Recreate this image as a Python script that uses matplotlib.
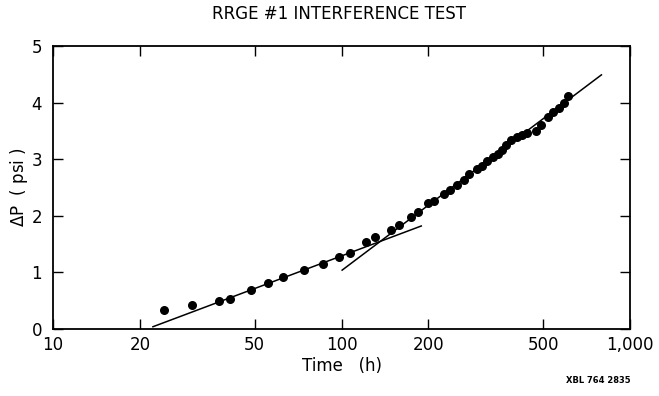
import matplotlib
matplotlib.use("Agg")
import matplotlib.pyplot as plt
from matplotlib.ticker import FixedLocator, NullLocator

# pressure buildup points
time_h = [24.3, 30.4, 37.5, 41.1, 48.4, 55.6, 62.5, 74.2, 86.5, 98.2, 107.4,
          122, 130.4, 148, 158, 174, 184, 199, 210, 226, 237, 251, 266, 276,
          295, 308, 319, 334, 348, 360, 371, 388, 407, 424, 441, 472, 491,
          518, 542, 568, 591, 612]
dp_psi = [0.34, 0.42, 0.50, 0.53, 0.69, 0.81, 0.92, 1.04, 1.14, 1.27, 1.34,
          1.53, 1.63, 1.75, 1.84, 1.97, 2.07, 2.23, 2.26, 2.38, 2.46, 2.54,
          2.64, 2.74, 2.83, 2.88, 2.96, 3.04, 3.10, 3.17, 3.25, 3.34, 3.39,
          3.43, 3.47, 3.50, 3.60, 3.74, 3.84, 3.90, 3.99, 4.12]

# the two straight-line fits (end points)
early_t = [22.2, 189]
early_dp = [0.04, 1.82]
late_t = [100.5, 796]
late_dp = [1.04, 4.49]

xticks = [10, 20, 50, 100, 200, 500, 1000]
xlabels = ["10", "20", "50", "100", "200", "500", "1,000"]
yticks = [0, 1, 2, 3, 4, 5]

fig = plt.figure(figsize=(6.59, 3.96), dpi=100)
ax = fig.add_axes([53 / 659, 1 - 329 / 396, 577 / 659, 283 / 396])

ax.plot(early_t, early_dp, color="black", lw=1.1)
ax.plot(late_t, late_dp, color="black", lw=1.1)
ax.scatter(time_h, dp_psi, s=30, color="black", zorder=3)

ax.set_xscale("log")
ax.set_xlim(10, 1000)
ax.set_ylim(0, 5)
ax.xaxis.set_major_locator(FixedLocator(xticks))
ax.xaxis.set_minor_locator(NullLocator())
ax.set_xticklabels(xlabels)
ax.set_yticks(yticks)

ax.tick_params(direction="in", top=True, right=True, length=7, width=1,
               labelsize=12)
ax.tick_params(axis="x", pad=5)
ax.tick_params(axis="y", pad=8)
for s in ax.spines.values():
    s.set_linewidth(1.3)

ax.set_xlabel("Time   (h)", fontsize=12, labelpad=2)
ax.set_ylabel("$\\Delta$P  ( psi )", fontsize=12, labelpad=1)

fig.text(0.515, 0.965, "RRGE #1 INTERFERENCE TEST", ha="center", va="center",
         fontsize=12)
fig.text(0.908, 0.04, "XBL 764 2835", ha="center", va="center",
         fontsize=6, fontweight="bold")

plt.savefig("out.png", dpi=100)
plt.close(fig)
